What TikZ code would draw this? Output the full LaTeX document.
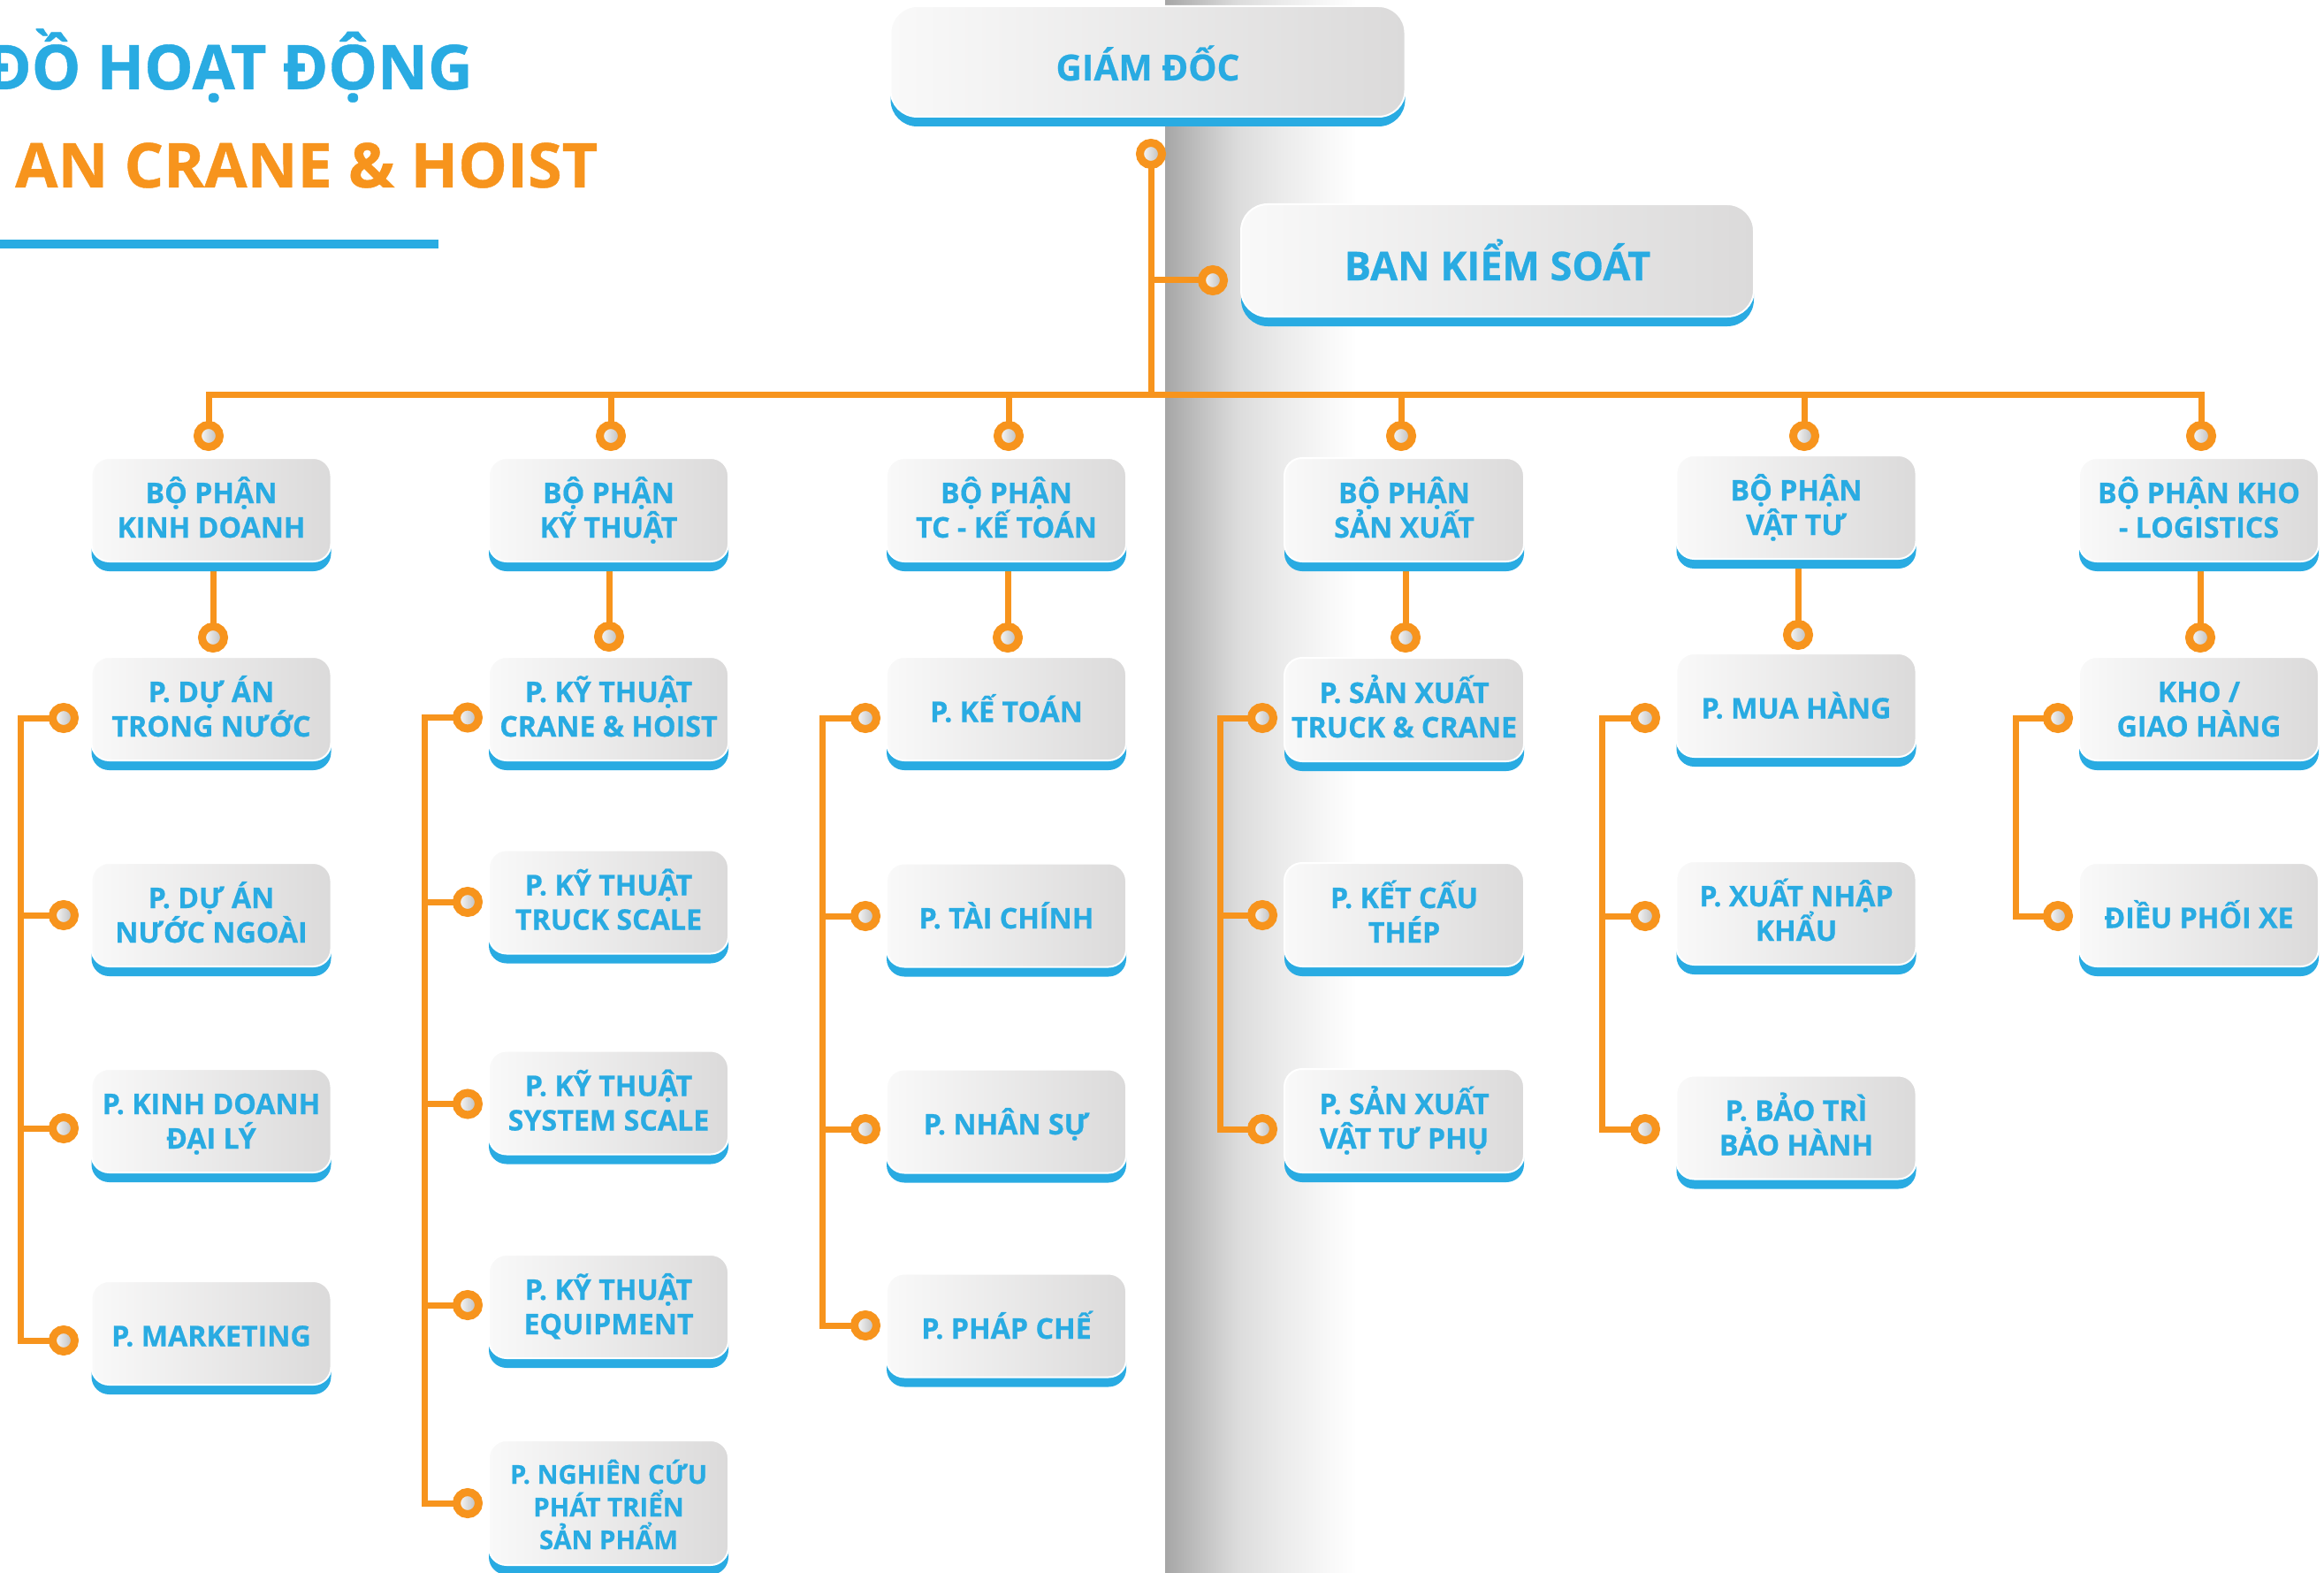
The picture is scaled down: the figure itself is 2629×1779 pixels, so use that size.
\documentclass[tikz,border=0pt]{standalone}
\usepackage{fontspec}
\setmainfont{Open Sans}[BoldFeatures={FakeBold=0.6}]
\usetikzlibrary{calc}
\definecolor{ocblue}{RGB}{41,171,226}
\definecolor{ocorange}{RGB}{247,148,29}
\definecolor{boxL}{RGB}{249,249,249}
\definecolor{boxR}{RGB}{219,218,218}
\definecolor{pnl0}{RGB}{166,166,166}
\definecolor{pnl1}{RGB}{208,208,208}
\definecolor{pnl2}{RGB}{220,220,220}
\definecolor{pnl3}{RGB}{235,235,235}
\definecolor{pnl4}{RGB}{248,248,248}
\pgfdeclarelayer{back}
\pgfdeclarelayer{mid}
\pgfsetlayers{back,mid,main}
\pgfdeclarehorizontalshading{panelshade}{100bp}{color(0bp)=(pnl0); color(25bp)=(pnl0); color(39.5bp)=(pnl1); color(44bp)=(pnl2); color(55.5bp)=(pnl3); color(67.5bp)=(pnl4); color(75bp)=(white); color(100bp)=(white)}
\newcommand\mlines[1]{\vbox{\lineskiplimit=-1000pt\lineskip=0pt\halign{\hfil##\hfil\cr#1\crcr}}}
\newcommand\lblfont{\fontsize{32.2}{39}\selectfont\bfseries}
\newcommand\smlfont{\fontsize{29.4}{37}\selectfont\bfseries}
\newcommand\gdfont{\fontsize{40.6}{48}\selectfont\bfseries}
\newcommand\bkfont{\fontsize{45}{54}\selectfont\bfseries}
\newcommand\ttlfont{\fontsize{70}{80}\selectfont\bfseries}
\tikzset{
  conn/.style={draw=ocorange, line width=7pt, line join=miter},
  ring/.style={circle, inner sep=0pt, outer sep=0pt, minimum size=25pt, draw=ocorange, line width=9pt, left color=white, right color=black!28},
  obox/.style={rectangle, rounded corners=20pt, minimum width=271pt, minimum height=117pt, inner sep=0pt, outer sep=0pt, left color=boxL, right color=boxR, draw=white, line width=2pt, text=ocblue, font=\lblfont, preaction={fill=ocblue, transform canvas={yshift=-11pt}}},
  lone/.style={text height=30pt, text depth=0pt},
  ltwo/.style={text height=63pt, text depth=0pt},
  lthree/.style={text height=105pt, text depth=0pt, minimum height=141pt, font=\smlfont},
  bigbox/.style={obox, rounded corners=30pt, minimum width=582pt, minimum height=125pt},
}
\begin{document}
\begin{tikzpicture}[x=1pt,y=-1pt]
\useasboundingbox (0,0) rectangle (2629,1779);
\begin{pgfonlayer}{back}
  \fill[white] (0,0) rectangle (2629,1779);
  \shade[shading=panelshade] (1318,-2) rectangle (1535,1781);
\end{pgfonlayer}

% title
\node[anchor=base east, inner sep=0pt, text=ocblue, font=\ttlfont] (title1) at (535,101) {ĐỒ HOẠT ĐỘNG};
\node[anchor=base west, inner sep=0pt, text=ocorange, font=\ttlfont] (title2) at (17,212) {AN CRANE \& HOIST};
\fill[ocblue] (0,271) rectangle (496,281);

% top boxes
\node[bigbox, font=\gdfont, text height=43pt, text depth=0pt] (gd) at (1298.5,69.5) {GIÁM ĐỐC};
\node[bigbox, minimum width=580pt, minimum height=127pt, font=\bkfont, text height=45pt, text depth=0pt] (bks) at (1694,294.5) {BAN KIỂM SOÁT};

% department boxes
\node[obox, ltwo] (d1) at (239,576.5) {\mlines{BỘ PHẬN\cr KINH DOANH}};
\node[obox, ltwo] (d2) at (688.5,576.5) {\mlines{BỘ PHẬN\cr KỸ THUẬT}};
\node[obox, ltwo] (d3) at (1138.5,576.5) {\mlines{BỘ PHẬN\cr TC - KẾ TOÁN}};
\node[obox, ltwo] (d4) at (1588.5,576.5) {\mlines{BỘ PHẬN\cr SẢN XUẤT}};
\node[obox, ltwo] (d5) at (2032,573.5) {\mlines{BỘ PHẬN\cr VẬT TƯ}};
\node[obox, ltwo] (d6) at (2487.5,576.5) {\mlines{BỘ PHẬN KHO\cr - LOGISTICS}};

% column 1
\node[obox, ltwo] (s11) at (239,801.5) {\mlines{P. DỰ ÁN\cr TRONG NƯỚC}};
\node[obox, ltwo] (s12) at (239,1034.5) {\mlines{P. DỰ ÁN\cr NƯỚC NGOÀI}};
\node[obox, ltwo] (s13) at (239,1267.5) {\mlines{P. KINH DOANH\cr ĐẠI LÝ}};
\node[obox, lone] (s14) at (239,1507.5) {P. MARKETING};
% column 2
\node[obox, ltwo] (s21) at (688.5,801.5) {\mlines{P. KỸ THUẬT\cr CRANE \& HOIST}};
\node[obox, ltwo] (s22) at (688.5,1020) {\mlines{P. KỸ THUẬT\cr TRUCK SCALE}};
\node[obox, ltwo] (s23) at (688.5,1247) {\mlines{P. KỸ THUẬT\cr SYSTEM SCALE}};
\node[obox, ltwo] (s24) at (688.5,1477.5) {\mlines{P. KỸ THUẬT\cr EQUIPMENT}};
\node[obox, lthree] (s25) at (688.5,1699.5) {\mlines{P. NGHIÊN CỨU\cr PHÁT TRIỂN\cr SẢN PHẨM}};
% column 3
\node[obox, lone] (s31) at (1138.5,801.5) {P. KẾ TOÁN};
\node[obox, lone] (s32) at (1138.5,1035) {P. TÀI CHÍNH};
\node[obox, lone] (s33) at (1138.5,1268) {P. NHÂN SỰ};
\node[obox, lone] (s34) at (1138.5,1499) {P. PHÁP CHẾ};
% column 4
\node[obox, ltwo] (s41) at (1588.5,802.5) {\mlines{P. SẢN XUẤT\cr TRUCK \& CRANE}};
\node[obox, ltwo] (s42) at (1588.5,1034.5) {\mlines{P. KẾT CẤU\cr THÉP}};
\node[obox, ltwo] (s43) at (1588.5,1267.5) {\mlines{P. SẢN XUẤT\cr VẬT TƯ PHỤ}};
% column 5
\node[obox, lone] (s51) at (2032,797.5) {P. MUA HÀNG};
\node[obox, ltwo] (s52) at (2032,1032.5) {\mlines{P. XUẤT NHẬP\cr KHẨU}};
\node[obox, ltwo] (s53) at (2032,1275) {\mlines{P. BẢO TRÌ\cr BẢO HÀNH}};
% column 6
\node[obox, ltwo] (s61) at (2487.5,801.5) {\mlines{KHO /\cr GIAO HÀNG}};
\node[obox, lone] (s62) at (2487.5,1034.5) {ĐIỀU PHỐI XE};

% rings
\node[ring] (cgd) at (1302,174) {};
\node[ring] (cbk) at (1372,317) {};
\node[ring] (t1) at (236,493) {};
\node[ring] (t2) at (691,493) {};
\node[ring] (t3) at (1141,493) {};
\node[ring] (t4) at (1585,493) {};
\node[ring] (t5) at (2041,493) {};
\node[ring] (t6) at (2490,493) {};
\node[ring] (u1) at (241,721) {};
\node[ring] (u2) at (689,720) {};
\node[ring] (u3) at (1140,721) {};
\node[ring] (u4) at (1590,721) {};
\node[ring] (u5) at (2034,718) {};
\node[ring] (u6) at (2489,721) {};
\node[ring] (l11) at (72,812) {};
\node[ring] (l12) at (72,1035) {};
\node[ring] (l13) at (72,1276) {};
\node[ring] (l14) at (72,1516) {};
\node[ring] (l21) at (529,811.5) {};
\node[ring] (l22) at (529,1020) {};
\node[ring] (l23) at (529,1248.5) {};
\node[ring] (l24) at (529,1476) {};
\node[ring] (l25) at (529,1700) {};
\node[ring] (l31) at (979,812) {};
\node[ring] (l32) at (979,1036) {};
\node[ring] (l33) at (979,1277) {};
\node[ring] (l34) at (979,1499) {};
\node[ring] (l41) at (1428,812) {};
\node[ring] (l42) at (1428,1035) {};
\node[ring] (l43) at (1428,1277) {};
\node[ring] (l51) at (1861,812) {};
\node[ring] (l52) at (1861,1036) {};
\node[ring] (l53) at (1861,1277) {};
\node[ring] (l61) at (2328,812) {};
\node[ring] (l62) at (2328,1036) {};

\begin{pgfonlayer}{mid}
  \coordinate (bus) at (1302,446.5);
  \draw[conn] (cgd.center) -- (cgd |- bus);
  \draw[conn] (cbk.center) -- (cgd |- cbk);
  \draw[conn] (t1.center) |- (bus) -| (t6.center);
  \foreach \n in {2,3,4,5} {\draw[conn] (t\n.center) -- (t\n |- bus);}
  \foreach \n in {1,...,6} {\draw[conn] (u\n.center) -- (u\n |- d\n.south);}
  % column 1
  \draw[conn] (l11.center) -- ++(-48.5,0) |- (l14.center);
  \draw[conn] (l12.center) -- ++(-48.5,0);
  \draw[conn] (l13.center) -- ++(-48.5,0);
  % column 2
  \draw[conn] (l21.center) -- ++(-49,0) |- (l25.center);
  \draw[conn] (l22.center) -- ++(-49,0);
  \draw[conn] (l23.center) -- ++(-49,0);
  \draw[conn] (l24.center) -- ++(-49,0);
  % column 3
  \draw[conn] (l31.center) -- ++(-49,0) |- (l34.center);
  \draw[conn] (l32.center) -- ++(-49,0);
  \draw[conn] (l33.center) -- ++(-49,0);
  % column 4
  \draw[conn] (l41.center) -- ++(-48,0) |- (l43.center);
  \draw[conn] (l42.center) -- ++(-48,0);
  % column 5
  \draw[conn] (l51.center) -- ++(-49,0) |- (l53.center);
  \draw[conn] (l52.center) -- ++(-49,0);
  % column 6
  \draw[conn] (l61.center) -- ++(-48,0) |- (l62.center);
\end{pgfonlayer}
\end{tikzpicture}
\end{document}
